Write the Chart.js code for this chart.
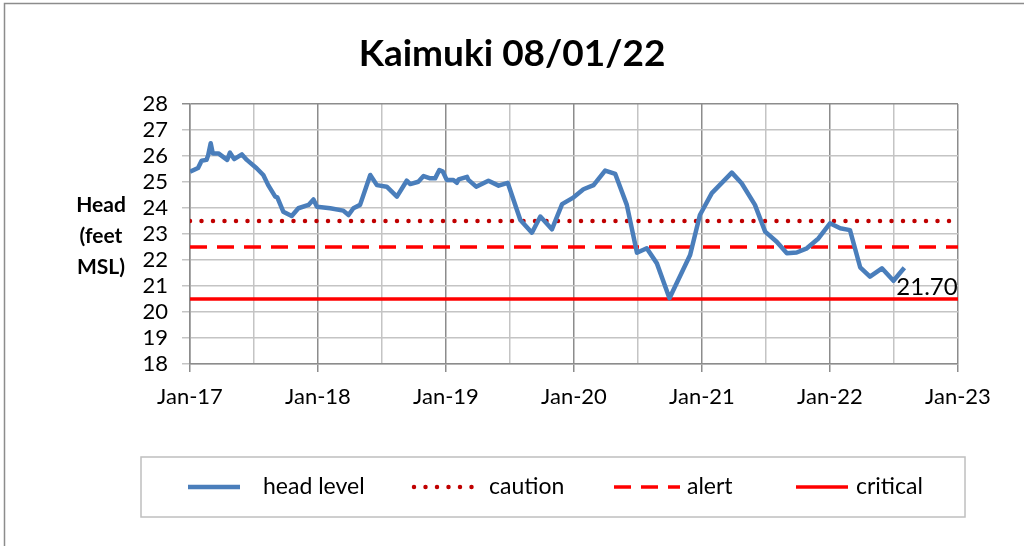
<!DOCTYPE html>
<html>
<head>
<meta charset="utf-8">
<script src="https://cdn.jsdelivr.net/npm/chart.js@4"></script>
<style>
  html, body { margin: 0; padding: 0; background: #fff; }
  #wrap { position: relative; width: 1024px; height: 546px; }
</style>
</head>
<body>
<div id="wrap"><canvas id="myChart" width="1024" height="546"></canvas></div>
<script>
//data
const sampleDates = [
  "2017-01-01", "2017-01-24", "2017-02-03", "2017-02-17", "2017-02-22", "2017-03-01",
  "2017-03-07", "2017-03-23", "2017-04-17", "2017-04-25", "2017-05-07", "2017-05-29",
  "2017-06-12", "2017-07-10", "2017-07-29", "2017-08-12", "2017-09-01", "2017-09-07",
  "2017-09-24", "2017-10-18", "2017-11-06", "2017-12-05", "2017-12-19", "2017-12-29",
  "2018-02-05", "2018-03-14", "2018-03-29", "2018-04-12", "2018-05-01", "2018-05-30",
  "2018-06-18", "2018-07-16", "2018-08-14", "2018-09-11", "2018-09-21", "2018-10-14",
  "2018-10-29", "2018-11-17", "2018-12-01", "2018-12-13", "2018-12-23", "2019-01-03",
  "2019-01-22", "2019-02-01", "2019-02-06", "2019-03-02", "2019-03-06", "2019-03-28",
  "2019-05-02", "2019-05-31", "2019-06-26", "2019-08-01", "2019-09-03", "2019-09-27",
  "2019-10-30", "2019-11-28", "2019-12-31", "2020-01-28", "2020-02-26", "2020-03-30",
  "2020-04-28", "2020-05-31", "2020-06-29", "2020-07-27", "2020-08-25", "2020-09-30",
  "2020-11-28", "2020-12-26", "2021-01-29", "2021-03-27", "2021-04-24", "2021-06-01",
  "2021-06-30", "2021-08-02", "2021-08-31", "2021-09-28", "2021-10-27", "2021-11-29",
  "2022-01-01", "2022-01-30", "2022-02-27", "2022-03-28", "2022-04-25", "2022-05-29",
  "2022-07-01", "2022-08-01"
];
const headLevel = [
  25.40, 25.54, 25.82, 25.85, 26.04, 26.49,
  26.10, 26.10, 25.85, 26.13, 25.88, 26.06,
  25.85, 25.53, 25.27, 24.88, 24.44, 24.41,
  23.86, 23.69, 23.99, 24.12, 24.33, 24.05,
  23.99, 23.90, 23.73, 23.99, 24.12, 25.27,
  24.88, 24.82, 24.44, 25.05, 24.92, 25.01,
  25.23, 25.14, 25.14, 25.46, 25.40, 25.08,
  25.08, 24.97, 25.10, 25.20, 25.08, 24.82,
  25.05, 24.86, 24.97, 23.54, 23.05, 23.67,
  23.18, 24.15, 24.41, 24.72, 24.88, 25.44,
  25.31, 24.12, 22.28, 22.45, 21.87, 20.53,
  22.19, 23.73, 24.57, 25.36, 24.95, 24.12,
  23.09, 22.70, 22.26, 22.29, 22.45, 22.83,
  23.41, 23.22, 23.15, 21.72, 21.36, 21.68,
  21.20, 21.70
];
const levelSpan = ["2017-01-01", "2023-01-01"];
const cautionLevel = [23.5, 23.5];
const alertLevel = [22.5, 22.5];
const criticalLevel = [20.5, 20.5];
const yTicks = [18, 19, 20, 21, 22, 23, 24, 25, 26, 27, 28];
const xTickYears = [2017, 2018, 2019, 2020, 2021, 2022, 2023];

function toYear(s) {
  const d = Date.parse(s + "T00:00:00Z");
  const y = Number(s.slice(0, 4));
  const a = Date.UTC(y, 0, 1), b = Date.UTC(y + 1, 0, 1);
  return y + (d - a) / (b - a);
}
function points(dates, vals) {
  return dates.map((d, i) => ({ x: toYear(d), y: vals[i] }));
}

const FONT = "Lato, 'Liberation Sans', sans-serif";
Chart.defaults.font.family = FONT;
Chart.defaults.font.size = 22;
Chart.defaults.color = "#000";

//setup
const data = {
  datasets: [
    {
      label: "head level",
      data: points(sampleDates, headLevel),
      borderColor: "#4a7ebb",
      borderWidth: 4.5,
      pointRadius: 0,
      borderJoinStyle: "round",
      order: 0,
    },
    {
      label: "caution",
      data: points(levelSpan, cautionLevel),
      borderColor: "#c00000",
      borderWidth: 4.5,
      borderDash: [0, 11.5],
      borderCapStyle: "round",
      pointRadius: 0,
      order: 1,
    },
    {
      label: "alert",
      data: points(levelSpan, alertLevel),
      borderColor: "#ff0000",
      borderWidth: 3.5,
      borderDash: [17, 10],
      pointRadius: 0,
      order: 2,
    },
    {
      label: "critical",
      data: points(levelSpan, criticalLevel),
      borderColor: "#ff0000",
      borderWidth: 3.5,
      pointRadius: 0,
      order: 3,
    },
  ],
};

// legend item spots: line start, line end, text start
const legendSpots = [[188, 240, 263], [414, 480, 489], [614, 680, 687], [796, 848, 856]];

// title, y title, last value label, legend box, outer frame
const decorations = {
  id: "decorations",
  afterDraw(chart) {
    const ctx = chart.ctx;
    ctx.save();
    // frame
    ctx.strokeStyle = "#8c8c8c";
    ctx.lineWidth = 1.5;
    ctx.beginPath();
    ctx.moveTo(4.5, 546);
    ctx.lineTo(4.5, 3.5);
    ctx.lineTo(1024, 3.5);
    ctx.stroke();

    // title
    ctx.fillStyle = "#000";
    ctx.textAlign = "center";
    ctx.textBaseline = "middle";
    ctx.font = "bold 37px " + FONT;
    ctx.fillText("Kaimuki 08/01/22", 512, 54);

    // y axis title
    ctx.font = "bold 21px " + FONT;
    ["Head", "(feet", "MSL)"].forEach((t, i) => ctx.fillText(t, 101, 205 + i * 31));

    // last value
    const xs = chart.scales.x, ys = chart.scales.y;
    const n = headLevel.length - 1;
    const px = xs.getPixelForValue(toYear(sampleDates[n]));
    const py = ys.getPixelForValue(headLevel[n]);
    ctx.font = "24px " + FONT;
    ctx.textAlign = "left";
    ctx.fillText(headLevel[n].toFixed(2), px - 8, py + 19);

    // legend
    ctx.strokeStyle = "#bfbfbf";
    ctx.lineWidth = 1.5;
    ctx.strokeRect(141, 457, 824, 60);
    const cy = 487;
    ctx.font = "23px " + FONT;
    chart.data.datasets.forEach((ds, i) => {
      const [a, b, t] = legendSpots[i];
      ctx.save();
      ctx.strokeStyle = ds.borderColor;
      ctx.lineWidth = ds.borderWidth;
      ctx.lineCap = ds.borderCapStyle || "butt";
      ctx.setLineDash(ds.borderDash || []);
      ctx.beginPath();
      ctx.moveTo(a, cy);
      ctx.lineTo(b, cy);
      ctx.stroke();
      ctx.restore();
      ctx.fillStyle = "#000";
      ctx.textBaseline = "middle";
      ctx.fillText(ds.label, t, cy);
    });
    ctx.restore();
  },
};

//options block
const options = {
  responsive: false,
  animation: false,
  devicePixelRatio: 1,
  layout: { padding: { left: 0, top: 104, right: 66, bottom: 142 } },
  plugins: {
    legend: { display: false },
    tooltip: { enabled: false },
  },
  scales: {
    x: {
      type: "linear",
      min: xTickYears[0],
      max: xTickYears[xTickYears.length - 1],
      afterFit: (s) => { s.height = 40; },
      afterBuildTicks: (s) => {
        const t = [];
        xTickYears.forEach((y, i) => {
          t.push({ value: y });
          if (i < xTickYears.length - 1) t.push({ value: y + 0.5 });
        });
        s.ticks = t;
      },
      ticks: {
        maxRotation: 0,
        autoSkip: false,
        padding: 12,
        callback: (v) => (Number.isInteger(v) ? "Jan-" + String(v).slice(2) : ""),
      },
      grid: {
        color: (c) => (c.tick && Number.isInteger(c.tick.value) ? "#8c8c8c" : "#c4c4c4"),
        tickColor: (c) => (c.tick && Number.isInteger(c.tick.value) ? "#8c8c8c" : "rgba(0,0,0,0)"),
        lineWidth: 1.5,
        tickLength: 8,
      },
      border: { color: "#8c8c8c", width: 1.5 },
    },
    y: {
      min: yTicks[0],
      max: yTicks[yTicks.length - 1],
      afterFit: (s) => { s.width = 190; },
      afterBuildTicks: (s) => { s.ticks = yTicks.map((v) => ({ value: v })); },
      ticks: { padding: 14, autoSkip: false },
      grid: {
        color: (c) => (c.tick && c.tick.value === 28 ? "#8c8c8c" : "#c4c4c4"),
        lineWidth: 1.5,
        tickLength: 8,
      },
      border: { color: "#8c8c8c", width: 1.5 },
    },
  },
};

//config
const config = {
  type: "line",
  data,
  options,
  plugins: [decorations],
};

//render
const myChart = new Chart(document.getElementById("myChart"), config);
</script>
</body>
</html>
